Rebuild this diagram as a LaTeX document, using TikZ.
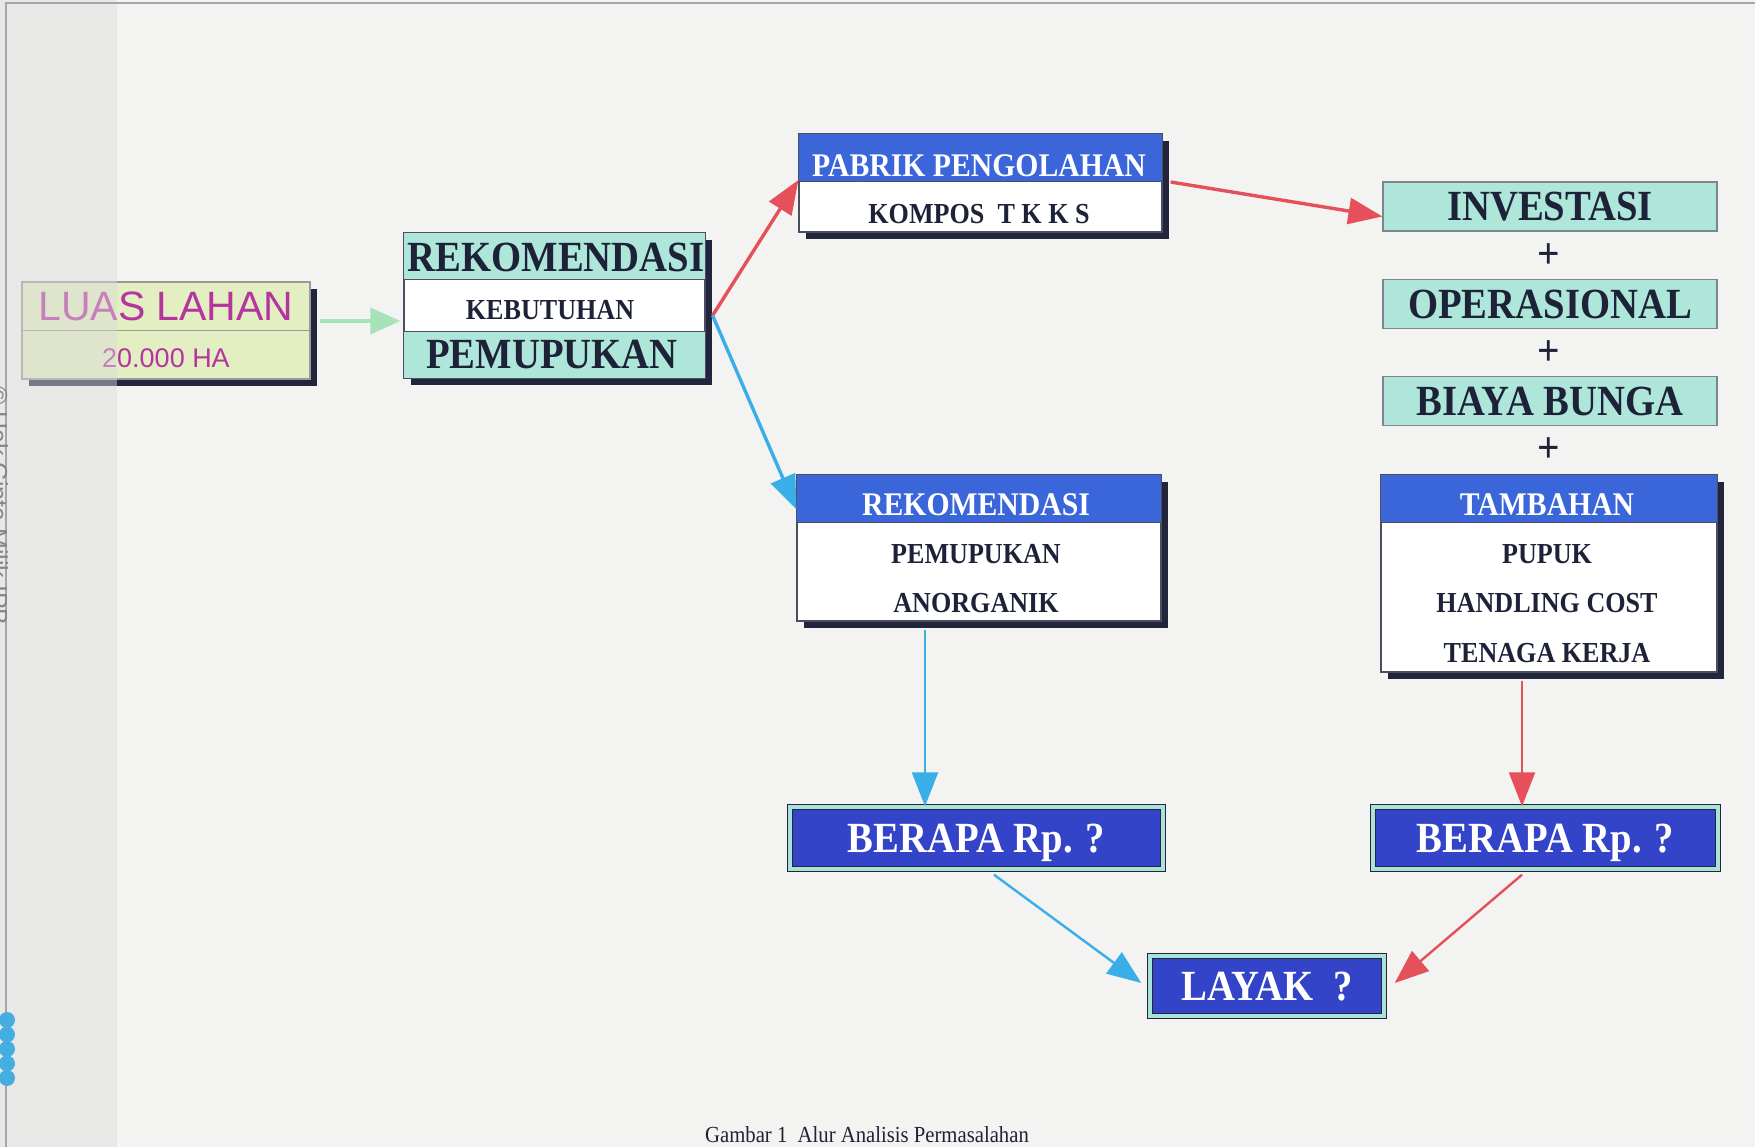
\documentclass[tikz,border=0pt]{standalone}
\usepackage{fontspec}
\usetikzlibrary{arrows.meta,shadows}
\newfontfamily\tnr{Liberation Serif}[FakeStretch=0.9]
\newfontfamily\ari{Liberation Sans}
\definecolor{bgc}{HTML}{F3F3F1}
\definecolor{aqua}{HTML}{AEE6D9}
\definecolor{hdr}{HTML}{3A66DA}
\definecolor{deepb}{HTML}{3344C8}
\definecolor{shd}{HTML}{23253D}
\definecolor{ink}{HTML}{1E2238}
\definecolor{lime}{HTML}{E3EEC2}
\definecolor{mag}{HTML}{B5359F}
\definecolor{redc}{HTML}{E5505A}
\definecolor{bluec}{HTML}{3AAEE6}
\definecolor{greenc}{HTML}{A6E3B8}
\definecolor{edge}{HTML}{4A4E60}
\definecolor{rim}{HTML}{A8E2D8}
\definecolor{dotc}{HTML}{45AEE0}
\tikzset{
  boxbase/.style={rectangle, draw=edge, line width=1.2pt, inner sep=0pt,
    drop shadow={shadow xshift=7pt, shadow yshift=-7pt, fill=shd, opacity=1}},
  flatbox/.style={rectangle, draw=edge!70, line width=1.2pt, fill=aqua, inner sep=0pt,
    minimum width=334pt, minimum height=49pt, text depth=0pt,
    font=\tnr\bfseries\fontsize{43}{48}\selectfont, text=ink},
  bigt/.style={font=\tnr\bfseries\fontsize{43}{48}\selectfont, text=ink, text depth=0pt, inner sep=0pt},
  midt/.style={font=\tnr\bfseries\fontsize{33}{38}\selectfont, text depth=0pt, inner sep=0pt},
  smallt/.style={font=\tnr\bfseries\fontsize{29}{34}\selectfont, text=ink, text depth=0pt, inner sep=0pt},
  plust/.style={font=\tnr\bfseries\fontsize{44}{48}\selectfont, text=ink, inner sep=0pt},
  berapa/.style={rectangle, draw=shd, double=rim, double distance=4pt, line width=1.4pt,
    fill=deepb, text=white, inner sep=0pt, text depth=0pt,
    font=\tnr\bfseries\fontsize{43}{48}\selectfont,
    drop shadow={shadow xshift=3pt, shadow yshift=-3pt, fill=black!45, opacity=0.6}},
  redarrow/.style={draw=redc, line width=3.4pt, -{Triangle[length=34pt,width=26pt]}},
  bluearrow/.style={draw=bluec, line width=3.4pt, -{Triangle[length=34pt,width=26pt]}},
  greenarrow/.style={draw=greenc, line width=3.4pt, -{Triangle[length=30pt,width=26pt]}},
  divider/.style={draw=edge, line width=1.2pt}
}
\begin{document}
\begin{tikzpicture}[x=1pt,y=-1pt]
\useasboundingbox (0,0) rectangle (1755,1147);
\fill[bgc] (0,0) rectangle (1755,1147);

% ---------- LUAS LAHAN ----------
\node[boxbase, draw=gray!80, fill=lime, minimum width=288pt, minimum height=97pt] (luas) at (166,330.5) {};
\draw[draw=gray!80, line width=1.2pt] ([yshift=-49pt]luas.north west) -- ([yshift=-49pt]luas.north east);
\node[font=\ari\fontsize{41}{46}\selectfont, text=mag, inner sep=0pt] (luasT) at (166,306) {LUAS LAHAN};
\node[font=\ari\fontsize{27}{32}\selectfont, text=mag, inner sep=0pt] (luasV) at (166,358) {20.000 HA};

% ---------- REKOMENDASI KEBUTUHAN PEMUPUKAN ----------
\node[boxbase, fill=white, minimum width=301pt, minimum height=145pt] (rek) at (554.5,305.5) {};
\fill[aqua] (rek.north west) rectangle ([yshift=-47pt]rek.north east);
\fill[aqua] ([yshift=47pt]rek.south west) rectangle (rek.south east);
\draw[divider] ([yshift=-47pt]rek.north west) -- ([yshift=-47pt]rek.north east);
\draw[divider] ([yshift=47pt]rek.south west) -- ([yshift=47pt]rek.south east);
\draw[divider] (rek.north west) rectangle (rek.south east);
\node[bigt] (rekA) at (556,257) {REKOMENDASI};
\node[smallt] (rekB) at (550,310) {KEBUTUHAN};
\node[bigt] (rekC) at (552,354) {PEMUPUKAN};

% ---------- PABRIK PENGOLAHAN ----------
\node[boxbase, fill=white, minimum width=363pt, minimum height=98pt] (pab) at (980.5,183) {};
\fill[hdr] (pab.north west) rectangle ([yshift=-48pt]pab.north east);
\draw[divider] ([yshift=-48pt]pab.north west) -- ([yshift=-48pt]pab.north east);
\draw[divider] (pab.north west) rectangle (pab.south east);
\node[midt, text=white] (pabA) at (979,166) {PABRIK PENGOLAHAN};
\node[smallt] (pabB) at (979,214) {KOMPOS\ \ T K K S};

% ---------- right column ----------
\node[flatbox] (inv) at (1550,206.5) {INVESTASI};
\node[plust] (p1) at (1549,256) {+};
\node[flatbox] (ops) at (1550,304) {OPERASIONAL};
\node[plust] (p2) at (1549,353) {+};
\node[flatbox] (bia) at (1550,401) {BIAYA BUNGA};
\node[plust] (p3) at (1549,450) {+};

\node[boxbase, fill=white, minimum width=336pt, minimum height=197pt] (tam) at (1549,573.5) {};
\fill[hdr] (tam.north west) rectangle ([yshift=-48pt]tam.north east);
\draw[divider] ([yshift=-48pt]tam.north west) -- ([yshift=-48pt]tam.north east);
\draw[divider] (tam.north west) rectangle (tam.south east);
\node[midt, text=white] (tamA) at (1547,505) {TAMBAHAN};
\node[smallt] (tamB) at (1547,554) {PUPUK};
\node[smallt] (tamC) at (1547,603) {HANDLING COST};
\node[smallt] (tamD) at (1547,653) {TENAGA KERJA};

% ---------- REKOMENDASI PEMUPUKAN ANORGANIK ----------
\node[boxbase, fill=white, minimum width=364pt, minimum height=146pt] (rekb) at (979,548) {};
\fill[hdr] (rekb.north west) rectangle ([yshift=-48pt]rekb.north east);
\draw[divider] ([yshift=-48pt]rekb.north west) -- ([yshift=-48pt]rekb.north east);
\draw[divider] (rekb.north west) rectangle (rekb.south east);
\node[midt, text=white] (rekbA) at (976,505) {REKOMENDASI};
\node[smallt] (rekbB) at (976,554) {PEMUPUKAN};
\node[smallt] (rekbC) at (976,603) {ANORGANIK};

% ---------- BERAPA / LAYAK ----------
\node[berapa, minimum width=373pt, minimum height=62pt] (berL) at (976.5,838) {BERAPA Rp. ?};
\node[berapa, minimum width=345pt, minimum height=62pt] (berR) at (1545.5,838) {BERAPA Rp. ?};
\node[berapa, minimum width=234pt, minimum height=60pt] (lay) at (1267,986) {LAYAK\ \ ?};

% ---------- connectors ----------
\draw[greenarrow] ([xshift=9pt,yshift=9.5pt]luas.east) -- ([xshift=-3pt,yshift=9.5pt]luas.east -| rek.west);
\draw[redarrow] ([xshift=7pt,yshift=-10pt]rek.east) -- ([yshift=3pt]pab.west);
\draw[bluearrow] ([xshift=7pt,yshift=-10pt]rek.east) -- ([yshift=-35pt]rekb.north west);
\draw[redarrow] ([xshift=8pt,yshift=1pt]pab.east) -- ([yshift=-10pt]inv.west);
\draw[bluearrow, line width=2.4pt] ([xshift=-54pt,yshift=-8pt]rekb.south) -- ([xshift=-54pt]rekb.south |- berL.north);
\draw[redarrow, line width=2.4pt] ([xshift=-27pt,yshift=-8pt]tam.south) -- ([xshift=-27pt]tam.south |- berR.north);
\draw[bluearrow, line width=2.4pt] ([xshift=17.5pt,yshift=-5pt]berL.south) -- ([xshift=-8pt,yshift=3pt]lay.west);
\draw[redarrow, line width=2.4pt] ([xshift=-23.5pt,yshift=-5pt]berR.south) -- ([xshift=10pt,yshift=3pt]lay.east);

% ---------- caption ----------
\node[font=\tnr\fontsize{23}{26}\selectfont, text=ink, inner sep=0pt] (cap) at (867,1135) {Gambar 1\ \ Alur Analisis Permasalahan};

% ---------- page edge / watermark strip ----------
\fill[fill={rgb,255:red,220;green,220;blue,218}, opacity=0.46] (0,0) rectangle (117,1147);
\draw[gray!70, line width=1.5pt] (6,1147) -- (6,3) -- (1755,3);
\node[rotate=-90, anchor=base west, font=\ari\fontsize{25}{28}\selectfont, text=gray!95, inner sep=0pt] (wm) at (-10,386) {© Hak Cipta Milik IPB};
\foreach \k in {0,...,4} {\fill[dotc] (7,1020+14.5*\k) circle (8pt);}
\end{tikzpicture}
\end{document}
